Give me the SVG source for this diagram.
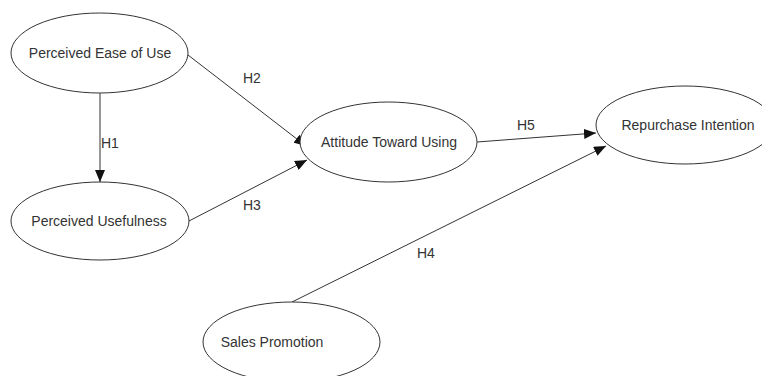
<svg xmlns="http://www.w3.org/2000/svg" width="762" height="376" viewBox="0 0 762 376">
<style>
.n ellipse{fill:#fff;stroke:#333;stroke-width:1}
.n text,.lbl{font-family:"Liberation Sans",Arial,sans-serif;font-size:14px;fill:#333;dominant-baseline:middle}
.n text{text-anchor:middle}
.e{stroke:#333;stroke-width:1;fill:none;marker-end:url(#ah)}
</style>
<defs>
<marker id="ah" viewBox="0 0 12 10" refX="12" refY="5" markerWidth="12" markerHeight="10" markerUnits="userSpaceOnUse" orient="auto">
<path d="M0,0 L12,5 L0,10 z" fill="#111"/>
</marker>
</defs>
<rect width="762" height="376" fill="#fff"/>
<g id="connectors">
<line class="e" x1="100" y1="93" x2="100" y2="182"/>
<line class="e" x1="188" y1="55" x2="306" y2="146"/>
<line class="e" x1="189" y1="221" x2="307" y2="160"/>
<line class="e" x1="477" y1="142" x2="596" y2="133"/>
<line class="e" x1="292" y1="302" x2="606" y2="146"/>
<text class="lbl" x="101" y="144">H1</text>
<text class="lbl" x="243" y="79">H2</text>
<text class="lbl" x="243" y="206">H3</text>
<text class="lbl" x="417" y="254">H4</text>
<text class="lbl" x="517" y="126">H5</text>
</g>
<g id="peou" class="n"><ellipse cx="99.5" cy="53" rx="88.5" ry="40"/><text x="100" y="54">Perceived Ease of Use</text></g>
<g id="pu" class="n"><ellipse cx="100" cy="221" rx="89" ry="39"/><text x="99" y="222">Perceived Usefulness</text></g>
<g id="atu" class="n"><ellipse cx="388.5" cy="142" rx="88.5" ry="40"/><text x="389" y="143">Attitude Toward Using</text></g>
<g id="ri" class="n"><ellipse cx="685" cy="125" rx="89" ry="39"/><text x="688" y="126">Repurchase Intention</text></g>
<g id="sp" class="n"><ellipse cx="291.5" cy="342" rx="88.5" ry="40"/><text x="272" y="343">Sales Promotion</text></g>
</svg>
